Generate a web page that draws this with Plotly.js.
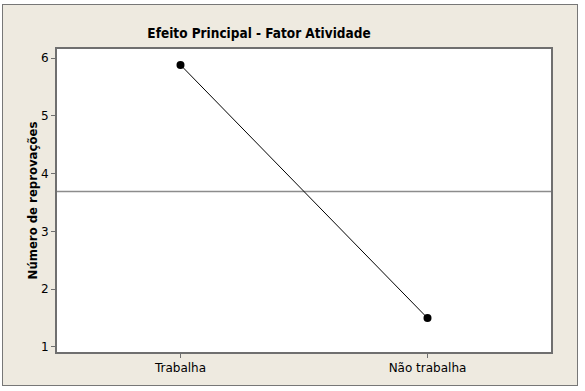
<!DOCTYPE html>
<html>
<head>
<meta charset="utf-8">
<script src="https://cdn.plot.ly/plotly-3.0.1.min.js"></script>
<style>
  html, body { margin: 0; padding: 0; background: #ffffff; }
  #wrap { position: relative; width: 585px; height: 391px; }
  /* outer panel of the figure */
  #frame {
    position: absolute; left: 2px; top: 4px;
    width: 574px; height: 380px;
    background: #eeeae0;
    border: 1.5px solid #777777;
  }
  #chart { position: absolute; left: 0; top: 0; width: 585px; height: 391px; }
</style>
</head>
<body>
<div id="wrap">
  <div id="frame"></div>
  <div id="chart"></div>
</div>
<script>
// Main effect of the "Atividade" factor on the number of failures
const categories = ["Trabalha", "Não trabalha"];
const meanValues = [5.88, 1.50];
const yTicks = [1, 2, 3, 4, 5, 6];

// Overall mean (reference line)
const grandMean = meanValues.reduce((a, b) => a + b, 0) / meanValues.length;

const W = 585, H = 391;
const margin = { l: 57, r: 34, t: 49, b: 39 };

const font = "Tahoma, 'DejaVu Sans', sans-serif";
const titleFont = "Tahoma, 'DejaVu Sans Condensed', 'DejaVu Sans', sans-serif";
const axisColor = "#6f6f6f";

const trace = {
  type: "scatter",
  mode: "lines+markers",
  x: categories,
  y: meanValues,
  line: { color: "#000000", width: 1 },
  marker: { color: "#000000", size: 8, symbol: "circle" },
  hoverinfo: "x+y"
};

const layout = {
  width: W,
  height: H,
  margin: margin,
  paper_bgcolor: "rgba(0,0,0,0)",
  plot_bgcolor: "#ffffff",
  showlegend: false,
  title: {
    text: "<b>Efeito Principal - Fator Atividade</b>",
    font: { family: titleFont, size: 13.5, color: "#000000" },
    xref: "container", x: 259 / W, xanchor: "center",
    yref: "container", y: 1 - 33 / H, yanchor: "middle"
  },
  xaxis: {
    type: "category",
    range: [-0.5, 1.5],
    showline: true, mirror: true, linecolor: axisColor, linewidth: 2,
    ticks: "outside", ticklen: 4, tickwidth: 1, tickcolor: axisColor,
    showgrid: false, zeroline: false,
    tickfont: { family: font, size: 12, color: "#000000" }
  },
  yaxis: {
    range: [0.913, 6.156],
    tickvals: yTicks,
    ticktext: yTicks.map(String),
    showline: true, mirror: true, linecolor: axisColor, linewidth: 2,
    ticks: "outside", ticklen: 4, tickwidth: 1, tickcolor: axisColor,
    showgrid: false, zeroline: false,
    tickfont: { family: font, size: 12, color: "#000000" },
    title: {
      text: "<b>Número de reprovações</b>",
      font: { family: titleFont, size: 13, color: "#000000" },
      standoff: 0
    }
  },
  shapes: [
    {
      type: "line", layer: "below",
      xref: "paper", yref: "y",
      x0: 0, x1: 1, y0: grandMean, y1: grandMean,
      line: { color: "#8c8c8c", width: 1.5 }
    }
  ]
};

Plotly.newPlot("chart", [trace], layout, { displayModeBar: false, staticPlot: true });
</script>
</body>
</html>
